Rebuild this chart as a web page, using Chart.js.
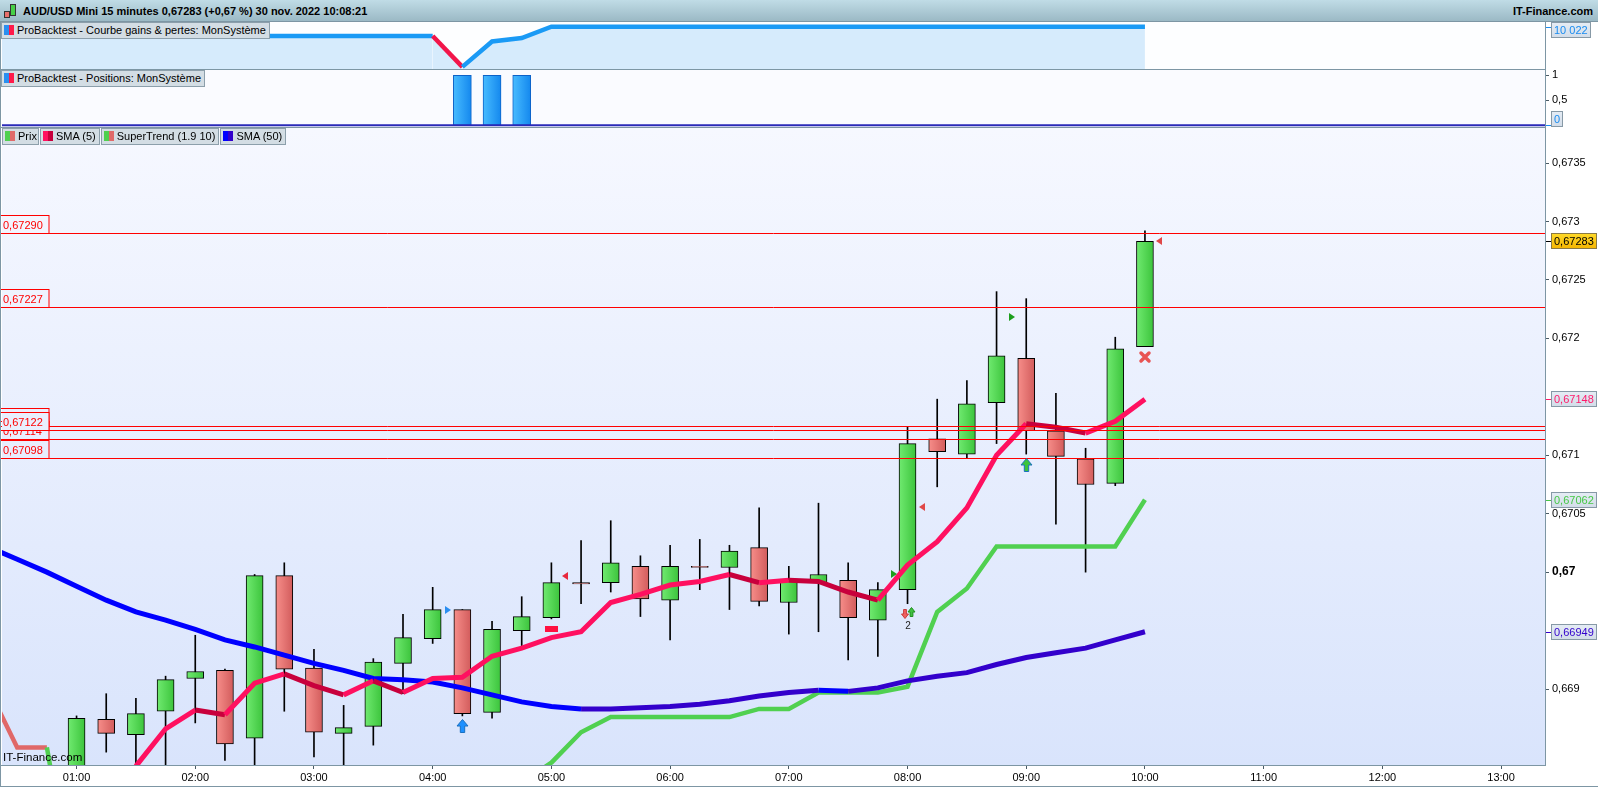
<!DOCTYPE html>
<html lang="fr">
<head>
<meta charset="utf-8">
<title>AUD/USD Mini 15 minutes</title>
<script src="https://cdn.jsdelivr.net/npm/chart.js@4.4.1/dist/chart.umd.min.js"></script>
<style>
  html, body { margin: 0; padding: 0; background: #fff; }
  body { width: 1598px; height: 787px; overflow: hidden; position: relative;
         font-family: "Liberation Sans", Arial, sans-serif; font-size: 11px; color: #000; }
  canvas { position: absolute; left: 0; }
  #header { position: absolute; left: 0; top: 0; width: 1598px; height: 21px;
            background: linear-gradient(#c0dce6, #9bb9c5); border-bottom: 1px solid #7d96a4; }
  #title { position: absolute; left: 23px; top: 0; line-height: 22px; font-weight: bold; font-size: 11px; }
  #brand { position: absolute; right: 5px; top: 0; line-height: 22px; font-weight: bold; font-size: 11px; }
  .candle { position: absolute; border: 1px solid #333; }
  .hl { position: absolute; background: #7d96a4; height: 1px; }
  .vl { position: absolute; background: #7d96a4; width: 1px; }
  .box { position: absolute; height: 15px; line-height: 15px; background: #d3dde4; border: 1px solid #8c9fab;
         padding: 0 3px 0 15px; white-space: nowrap; font-size: 11px; }
  .box i { position: absolute; left: 2px; top: 2px; width: 10px; height: 10px; }
  .row { position: absolute; left: 2px; top: 128px; display: flex; gap: 1px; }
  .row .box { position: relative; }
  #wm { position: absolute; left: 3px; top: 751px; font-size: 11.5px; }
</style>
</head>
<body>
<div id="header">
  <div class="candle" style="left:4px;top:11px;width:4px;height:5px;background:#e8706c"></div>
  <div class="candle" style="left:10px;top:4px;width:4px;height:10px;background:#46d046"></div>
  <span id="title">AUD/USD Mini 15 minutes 0,67283 (+0,67 %) 30 nov. 2022 10:08:21</span>
  <span id="brand">IT-Finance.com</span>
</div>

<canvas id="equity" width="1598" height="47" style="top:22px"></canvas>
<canvas id="positions" width="1598" height="57" style="top:70px"></canvas>
<canvas id="price" width="1598" height="659" style="top:128px"></canvas>

<div class="hl" style="left:0;top:69px;width:1546px"></div>
<div class="hl" style="left:0;top:127px;width:1546px"></div>
<div class="hl" style="left:0;top:765px;width:1546px"></div>
<div class="hl" style="left:0;top:786px;width:1598px"></div>
<div class="vl" style="left:1545px;top:22px;height:744px"></div>
<div class="vl" style="left:0;top:22px;height:765px"></div>

<div class="box" style="left:1px;top:22px"><i style="background:linear-gradient(90deg,#2a8ff0 50%,#ff1a4a 50%)"></i>ProBacktest - Courbe gains &amp; pertes: MonSystème</div>
<div class="box" style="left:1px;top:70px"><i style="background:linear-gradient(90deg,#2a8ff0 50%,#ff1a4a 50%)"></i>ProBacktest - Positions: MonSystème</div>
<div class="row">
  <div class="box" style="width:20px;padding-right:0"><i style="background:linear-gradient(90deg,#4fd04f 50%,#e06a6a 50%)"></i>Prix</div>
  <div class="box"><i style="background:linear-gradient(90deg,#ff1060 50%,#c8003c 50%)"></i>SMA (5)</div>
  <div class="box"><i style="background:linear-gradient(90deg,#4fd04f 50%,#e06a6a 50%)"></i>SuperTrend (1.9 10)</div>
  <div class="box"><i style="background:linear-gradient(90deg,#0000ff 50%,#3300cc 50%)"></i>SMA (50)</div>
</div>
<div id="wm">IT-Finance.com</div>

<script>
// 15 minute bars
const times = [
  "00:15", "00:30", "00:45", "01:00", "01:15", "01:30", "01:45", "02:00", "02:15", "02:30",
  "02:45", "03:00", "03:15", "03:30", "03:45", "04:00", "04:15", "04:30", "04:45", "05:00",
  "05:15", "05:30", "05:45", "06:00", "06:15", "06:30", "06:45", "07:00", "07:15", "07:30",
  "07:45", "08:00", "08:15", "08:30", "08:45", "09:00", "09:15", "09:30", "09:45", "10:00",
];

const open = [
  null, null, null,
  0.66820, 0.66874, 0.66861, 0.66881, 0.66909, 0.66916, 0.66858, 0.66997, 0.66918, 0.66862,
  0.66868, 0.66922, 0.66943, 0.66968, 0.66880, 0.66950, 0.66961, 0.66991, 0.66991, 0.67005,
  0.66976, 0.67005, 0.67004, 0.67021, 0.66974, 0.66991, 0.66993, 0.66959, 0.66985, 0.67114,
  0.67101, 0.67145, 0.67183, 0.67121, 0.67097, 0.67076, 0.67193,
];
const high = [
  null, null, null,
  0.66877, 0.66896, 0.66892, 0.66911, 0.66946, 0.66917, 0.66998, 0.67008, 0.66934, 0.66886,
  0.66926, 0.66964, 0.66987, 0.66968, 0.66958, 0.66979, 0.67008, 0.67027, 0.67044, 0.67014,
  0.67023, 0.67028, 0.67023, 0.67055, 0.67005, 0.67059, 0.67008, 0.66991, 0.67124, 0.67148,
  0.67164, 0.67240, 0.67234, 0.67153, 0.67106, 0.67201, 0.67292,
];
const low = [
  null, null, null,
  0.66810, 0.66846, 0.66830, 0.66830, 0.66871, 0.66839, 0.66830, 0.66881, 0.66842, 0.66830,
  0.66852, 0.66896, 0.66939, 0.66877, 0.66875, 0.66937, 0.66960, 0.66973, 0.66983, 0.66962,
  0.66942, 0.66985, 0.66968, 0.66971, 0.66947, 0.66949, 0.66925, 0.66928, 0.66973, 0.67073,
  0.67097, 0.67110, 0.67101, 0.67041, 0.67000, 0.67074, 0.67193,
];
const close = [
  null, null, null,
  0.66875, 0.66862, 0.66879, 0.66908, 0.66915, 0.66853, 0.66997, 0.66917, 0.66863, 0.66867,
  0.66923, 0.66944, 0.66968, 0.66879, 0.66951, 0.66962, 0.66991, 0.66990, 0.67008, 0.66977,
  0.67005, 0.67004, 0.67018, 0.66975, 0.66994, 0.66998, 0.66961, 0.66985, 0.67110, 0.67103,
  0.67144, 0.67185, 0.67121, 0.67099, 0.67075, 0.67191, 0.67283,
];

const sma5 = [
  null, null, null, null, null,
  0.66834, 0.66866, 0.66882, 0.66878, 0.66905, 0.66913, 0.66903, 0.66895, 0.66907, 0.66897,
  0.66909, 0.66910, 0.66928, 0.66935, 0.66944, 0.66949, 0.66974, 0.66981, 0.66989, 0.66992,
  0.66998, 0.66991, 0.66993, 0.66992, 0.66983, 0.66976, 0.67006, 0.67026, 0.67055, 0.67100,
  0.67127, 0.67124, 0.67119, 0.67129, 0.67148,
];
const sma50 = [
  0.67022, 0.67011, 0.67000, 0.66988, 0.66976, 0.66966, 0.66959, 0.66951, 0.66942, 0.66936,
  0.66929, 0.66922, 0.66916, 0.66909, 0.66908, 0.66906, 0.66901, 0.66895, 0.66889, 0.66885,
  0.66883, 0.66883, 0.66884, 0.66885, 0.66887, 0.66890, 0.66894, 0.66897, 0.66899, 0.66898,
  0.66901, 0.66907, 0.66911, 0.66914, 0.66921, 0.66927, 0.66931, 0.66935, 0.66942, 0.66949,
];
// supertrend, split in its up (green) and down (red) legs
const stUp = [
  null, null, 0.66850, 0.66707, 0.66707, 0.66707, 0.66707, 0.66707, 0.66707, 0.66707,
  0.66707, 0.66707, 0.66707, 0.66707, 0.66707, 0.66707, 0.66707, 0.66707, 0.66820, 0.66837,
  0.66863, 0.66876, 0.66876, 0.66876, 0.66876, 0.66876, 0.66883, 0.66883, 0.66897, 0.66897,
  0.66897, 0.66902, 0.66966, 0.66986, 0.67022, 0.67022, 0.67022, 0.67022, 0.67022, 0.67062,
];
const stDown = [
  0.66902, 0.66850, 0.66850, null, null, null, null, null, null, null,
  null, null, null, null, null, null, null, null, null, null,
  null, null, null, null, null, null, null, null, null, null,
  null, null, null, null, null, null, null, null, null, null,
];

// ProBacktest panels
const equity = [
  10000, 10000, 10000, 10000, 10000, 10000, 10000, 10000, 10000, 10000,
  10000, 10000, 10000, 10000, 10000, 10000, 9927, 9987, 9995, 10022,
  10022, 10022, 10022, 10022, 10022, 10022, 10022, 10022, 10022, 10022,
  10022, 10022, 10022, 10022, 10022, 10022, 10022, 10022, 10022, 10022,
];
const positions = [
  0, 0, 0, 0, 0, 0, 0, 0, 0, 0,
  0, 0, 0, 0, 0, 0, 1, 1, 1, 0,
  0, 0, 0, 0, 0, 0, 0, 0, 0, 0,
  0, 0, 0, 0, 0, 0, 0, 0, 0, 0,
];

// horizontal price levels (drawn in this order)
const levels = [0.67290, 0.67227, 0.67125, 0.67114, 0.67098, 0.67122];

const hourTicks = [1, 2, 3, 4, 5, 6, 7, 8, 9, 10, 11, 12, 13];
const priceTicks = [0.669, 0.67, 0.6705, 0.671, 0.672, 0.6725, 0.673, 0.6735];
const positionTicks = [0.5, 1];

// order marks of the backtest
const markers = [
  { t: "04:15", p: 0.66968, kind: "entry", color: "#2b8ef0" },
  { t: "04:15", p: 0.66868, kind: "arrowUp", color: "#1e90ff" },
  { t: "05:00", p: 0.66997, kind: "exit", color: "#e8283c" },
  { t: "05:00", p: 0.66951, kind: "dash", color: "#ff1040" },
  { t: "08:00", p: 0.66998, kind: "entry", color: "#1c9e1c" },
  { t: "08:00", p: 0.67056, kind: "exit", color: "#e04848" },
  { t: "08:00", p: 0.66964, kind: "pair", label: "2" },
  { t: "09:00", p: 0.67092, kind: "arrowUp", color: "#3cc43c" },
  { t: "09:00", p: 0.67218, kind: "entry", color: "#1c9e1c" },
  { t: "10:00", p: 0.67184, kind: "cross", color: "#e85454" },
  { t: "10:00", p: 0.67283, kind: "exit", color: "#e04848" },
];

const FONT = '"Liberation Sans", Arial, sans-serif';
Chart.defaults.font.family = FONT;
Chart.defaults.font.size = 11;
Chart.defaults.color = "#000";

const X_MIN = 0.372, X_MAX = 13.37;
const toH = (s) => +s.slice(0, 2) + s.slice(3) / 60;
const hours = times.map(toH);
const pts = (arr) => times.map((t, i) => ({ x: hours[i], y: arr[i] }));
const fmtPrice = (v) => v.toFixed(5).replace(".", ",");
const last = (arr) => arr[arr.length - 1];

const hiddenX = { type: "linear", min: X_MIN, max: X_MAX, offset: false, display: false };

const rightAxis = (min, max, ticks, fmt) => ({
  position: "right", min, max,
  afterBuildTicks: (s) => { s.ticks = ticks.map((v) => ({ value: v })); },
  afterFit: (s) => { s.width = 53; s.paddingTop = 0; s.paddingBottom = 0; },
  border: { display: false },
  grid: { drawOnChartArea: false, drawTicks: true, tickLength: 4, color: "#4a5a64" },
  ticks: {
    padding: 3, color: "#000", callback: fmt,
    font: (c) => ({ family: FONT, size: c.tick && c.tick.value === 0.67 ? 12 : 11,
                    weight: c.tick && c.tick.value === 0.67 ? "bold" : "normal" }),
  },
});

const baseOptions = {
  responsive: false,
  animation: false,
  events: [],
  layout: { padding: { left: 2, right: 0, top: 0, bottom: 0 } },
  plugins: { legend: { display: false }, tooltip: { enabled: false } },
};

// background of a panel, plain or vertical gradient
const panelBg = (from, to) => ({
  id: "panelBg",
  beforeDraw(chart) {
    const { ctx, chartArea: a } = chart;
    let fill = from;
    if (to) {
      fill = ctx.createLinearGradient(0, a.top, 0, a.bottom);
      fill.addColorStop(0, from);
      fill.addColorStop(1, to);
    }
    chart.$bg = fill;
    ctx.save();
    ctx.fillStyle = fill;
    ctx.fillRect(a.left, a.top, a.right - a.left, a.bottom - a.top);
    ctx.restore();
  },
});

// last-value labels on the right axis
const valueBoxes = (items) => ({
  id: "valueBoxes",
  afterDraw(chart) {
    const { ctx, chartArea: a } = chart;
    const ys = chart.scales.y;
    ctx.save();
    ctx.font = "11px " + FONT;
    items.forEach((b) => {
      const y = ys.getPixelForValue(b.v);
      const w = Math.round(ctx.measureText(b.text).width) + 6, h = 16;
      const top = Math.max(a.top, Math.min(a.bottom - h, Math.round(y - h / 2)));
      const left = a.right + 6;
      ctx.strokeStyle = b.color;
      ctx.lineWidth = 1;
      ctx.beginPath();
      ctx.moveTo(a.right, Math.round(y) + 0.5);
      ctx.lineTo(left, Math.round(y) + 0.5);
      ctx.stroke();
      const g = ctx.createLinearGradient(0, top, 0, top + h);
      g.addColorStop(0, b.top || "#e6edf5");
      g.addColorStop(1, b.bottom || "#d2dce8");
      ctx.fillStyle = g;
      ctx.fillRect(left, top, w, h);
      ctx.strokeStyle = b.edge || "#8799a6";
      ctx.strokeRect(left + 0.5, top + 0.5, w - 1, h - 1);
      ctx.fillStyle = b.color;
      ctx.textBaseline = "middle";
      ctx.fillText(b.text, left + 3, top + h / 2 + 1);
    });
    ctx.restore();
  },
});

// horizontal gradient for a bar, centred on its x value
const barGradient = (c, width, from, to) => {
  const chart = c.chart;
  if (c.type !== "data" || !chart.chartArea || !c.raw) return from;
  const xp = chart.scales.x.getPixelForValue(c.raw.x);
  const g = chart.ctx.createLinearGradient(xp - width / 2, 0, xp + width / 2, 0);
  g.addColorStop(0, from);
  g.addColorStop(1, to);
  return g;
};

/* ---------- equity curve ---------- */
new Chart(document.getElementById("equity"), {
  type: "line",
  data: {
    datasets: [{
      data: pts(equity),
      borderWidth: 4.5,
      pointRadius: 0,
      tension: 0,
      fill: "start",
      backgroundColor: "#d6ebfc",
      borderColor: "#1a9af5",
      segment: { borderColor: (c) => (c.p1.parsed.y < c.p0.parsed.y ? "#f2154a" : "#1a9af5") },
      clip: 0,
    }],
  },
  options: {
    ...baseOptions,
    scales: {
      x: hiddenX,
      y: {
        position: "right", min: 9922, max: 10033,
        afterFit: (s) => { s.width = 53; s.paddingTop = 0; s.paddingBottom = 0; },
        border: { display: false }, grid: { display: false }, ticks: { display: false },
      },
    },
  },
  plugins: [
    panelBg("#fdfeff"),
    valueBoxes([{
      v: last(equity),
      text: String(last(equity)).replace(/\B(?=(\d{3})+(?!\d))/g, " "),
      color: "#1a8cf0",
    }]),
  ],
});

/* ---------- positions ---------- */
const zeroLine = {
  id: "zeroLine",
  afterDatasetsDraw(chart) {
    const { ctx, chartArea: a } = chart;
    const y = chart.scales.y.getPixelForValue(0);
    ctx.save();
    ctx.strokeStyle = "#2a2ab8";
    ctx.lineWidth = 2;
    ctx.beginPath();
    ctx.moveTo(a.left, y);
    ctx.lineTo(a.right, y);
    ctx.stroke();
    ctx.restore();
  },
};

new Chart(document.getElementById("positions"), {
  type: "bar",
  data: {
    datasets: [{
      data: pts(positions),
      grouped: false,
      barThickness: 18,
      maxBarThickness: 18,
      backgroundColor: (c) => barGradient(c, 18, "#48bcff", "#1488ee"),
      borderColor: "#0c62c8",
      borderWidth: 1,
      borderSkipped: false,
      clip: 0,
    }],
  },
  options: {
    ...baseOptions,
    scales: {
      x: hiddenX,
      y: rightAxis(-0.034, 1.106, positionTicks, (v) => String(v).replace(".", ",")),
    },
  },
  plugins: [panelBg("#fafbff"), zeroLine, valueBoxes([{ v: 0, text: "0", color: "#1a8cf0" }])],
});

/* ---------- price ---------- */
const candleIdx = times.map((t, i) => i).filter((i) => open[i] !== null);

const levelsPlugin = {
  id: "levels",
  afterDatasetsDraw(chart) {
    const { ctx, chartArea: a } = chart;
    const ys = chart.scales.y;
    ctx.save();
    ctx.font = "11px " + FONT;
    ctx.lineWidth = 1;
    levels.forEach((v) => {
      const y = Math.round(ys.getPixelForValue(v)) + 0.5;
      ctx.strokeStyle = "#ff0000";
      ctx.beginPath();
      ctx.moveTo(a.left, y);
      ctx.lineTo(a.right, y);
      ctx.stroke();
      ctx.fillStyle = chart.$bg;
      ctx.fillRect(a.left, y - 18, 47, 18);
      ctx.strokeRect(a.left - 2, y - 18, 49, 18);
      ctx.fillStyle = "#ff0000";
      ctx.textBaseline = "middle";
      ctx.fillText(fmtPrice(v), a.left + 1, y - 8);
    });
    ctx.restore();
  },
};

const drawArrow = (ctx, x, y, w, h, up, fill, stroke) => {
  const d = up ? 1 : -1;
  const tip = y - d * h / 2, base = y + d * h / 2, head = tip + d * h * 0.5;
  ctx.beginPath();
  ctx.moveTo(x, tip);
  ctx.lineTo(x + w / 2, head);
  ctx.lineTo(x + w / 5, head);
  ctx.lineTo(x + w / 5, base);
  ctx.lineTo(x - w / 5, base);
  ctx.lineTo(x - w / 5, head);
  ctx.lineTo(x - w / 2, head);
  ctx.closePath();
  ctx.fillStyle = fill;
  ctx.fill();
  ctx.strokeStyle = stroke;
  ctx.lineWidth = 1;
  ctx.stroke();
};

const drawTri = (ctx, x, y, dir, color) => {
  ctx.fillStyle = color;
  ctx.beginPath();
  ctx.moveTo(x + dir * 3, y);
  ctx.lineTo(x - dir * 3, y - 4);
  ctx.lineTo(x - dir * 3, y + 4);
  ctx.closePath();
  ctx.fill();
};

const markerPlugin = {
  id: "markers",
  afterDatasetsDraw(chart) {
    const ctx = chart.ctx;
    const xs = chart.scales.x, ys = chart.scales.y;
    ctx.save();
    markers.forEach((m) => {
      const x = Math.round(xs.getPixelForValue(toH(m.t)));
      const y = Math.round(ys.getPixelForValue(m.p));
      if (m.kind === "entry") drawTri(ctx, x - 14, y, 1, m.color);
      else if (m.kind === "exit") drawTri(ctx, x + 14, y, -1, m.color);
      else if (m.kind === "arrowUp") drawArrow(ctx, x + 0.5, y, 11, 13, true, m.color, "#1a70c0");
      else if (m.kind === "dash") { ctx.fillStyle = m.color; ctx.fillRect(x - 6, y - 3, 13, 6); }
      else if (m.kind === "cross") {
        ctx.strokeStyle = m.color; ctx.lineWidth = 3.5; ctx.lineCap = "round";
        ctx.beginPath();
        ctx.moveTo(x - 4, y - 4); ctx.lineTo(x + 4, y + 4);
        ctx.moveTo(x + 4, y - 4); ctx.lineTo(x - 4, y + 4);
        ctx.stroke();
      } else if (m.kind === "pair") {
        drawArrow(ctx, x - 3, y, 7, 9, false, "#f06060", "#c83c3c");
        drawArrow(ctx, x + 3.5, y - 2, 7, 9, true, "#40c040", "#1e901e");
        ctx.fillStyle = "#222";
        ctx.font = "10px " + FONT;
        ctx.textAlign = "center";
        ctx.textBaseline = "middle";
        ctx.fillText(m.label, x, y + 12);
      }
    });
    ctx.restore();
  },
};

const lineSet = (arr, width, up, down, order) => ({
  type: "line",
  data: pts(arr),
  borderWidth: width,
  borderColor: up,
  pointRadius: 0,
  tension: 0,
  spanGaps: false,
  segment: { borderColor: (c) => (c.p1.parsed.y < c.p0.parsed.y ? down : up) },
  order,
  clip: 0,
});

new Chart(document.getElementById("price"), {
  type: "bar",
  data: {
    datasets: [
      lineSet(sma5, 5, "#ff1060", "#c8003c", 0),
      lineSet(sma50, 5, "#3300cc", "#0000ff", 1),
      lineSet(stUp, 4.5, "#50d050", "#50d050", 2),
      lineSet(stDown, 4.5, "#e06868", "#e06868", 3),
      {
        // candle bodies
        data: candleIdx.map((i) => ({ x: hours[i], y: [open[i], close[i]] })),
        grouped: false,
        barThickness: 17,
        maxBarThickness: 17,
        backgroundColor: (c) => {
          const up = c.raw && c.raw.y[1] >= c.raw.y[0];
          return up ? barGradient(c, 17, "#70ea70", "#3cc43c") : barGradient(c, 17, "#f78e8a", "#d25c5c");
        },
        borderColor: "#000",
        borderWidth: 1,
        borderSkipped: false,
        order: 5,
        clip: 0,
      },
      {
        // wicks
        data: candleIdx.map((i) => ({ x: hours[i], y: [low[i], high[i]] })),
        grouped: false,
        barThickness: 1,
        maxBarThickness: 1,
        backgroundColor: "#000",
        borderWidth: 0,
        order: 6,
        clip: 0,
      },
    ],
  },
  options: {
    ...baseOptions,
    scales: {
      x: {
        type: "linear", min: X_MIN, max: X_MAX, offset: false, position: "bottom",
        afterBuildTicks: (s) => { s.ticks = hourTicks.map((v) => ({ value: v })); },
        afterFit: (s) => { s.height = 22; s.paddingLeft = 0; s.paddingRight = 0; },
        border: { display: false },
        grid: { drawOnChartArea: false, drawTicks: true, tickLength: 4, color: "#4a5a64", offset: false },
        ticks: {
          padding: 2, color: "#000", maxRotation: 0, autoSkip: false,
          callback: (v) => (v < 10 ? "0" : "") + v + ":00",
        },
      },
      y: rightAxis(0.66835, 0.67380, priceTicks, (v) => String(v).replace(".", ",")),
    },
  },
  plugins: [
    panelBg("#f6f8ff", "#d9e4fc"),
    levelsPlugin,
    markerPlugin,
    valueBoxes([
      { v: last(close), text: fmtPrice(last(close)), color: "#000", top: "#ffdb2a", bottom: "#f5b400", edge: "#8a7a44" },
      { v: last(sma5), text: fmtPrice(last(sma5)), color: "#ff1a6a" },
      { v: last(stUp), text: fmtPrice(last(stUp)), color: "#46c846" },
      { v: last(sma50), text: fmtPrice(last(sma50)), color: "#3300cc" },
    ]),
  ],
});
</script>
</body>
</html>
